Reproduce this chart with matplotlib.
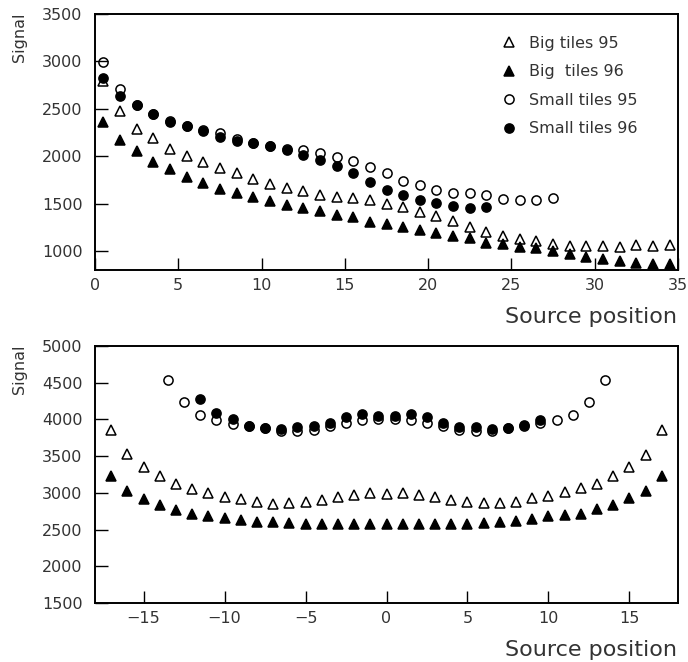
import matplotlib
matplotlib.use('Agg')
import matplotlib.pyplot as plt
import numpy as np

plt.rcParams['font.family'] = ['DejaVu Sans']

# ---------------- data: top panel ----------------
top_x_big = [0.5 + i for i in range(35)]
big95_top = [2790, 2474, 2292, 2187, 2072, 2006, 1943, 1872, 1827, 1757,
             1710, 1670, 1628, 1592, 1571, 1557, 1543, 1494, 1467, 1414,
             1372, 1316, 1256, 1197, 1155, 1127, 1103, 1075, 1050, 1053,
             1053, 1046, 1067, 1053, 1067]
big96_top = [2359, 2173, 2054, 1939, 1862, 1778, 1722, 1659, 1610, 1571,
             1523, 1484, 1453, 1424, 1382, 1358, 1309, 1281, 1256, 1222,
             1193, 1157, 1134, 1088, 1071, 1040, 1029, 998, 966, 935,
             914, 893, 875, 865, 868]
top_x_s95 = [0.5 + i for i in range(28)]
small95_top = [2993, 2712, 2540, 2450, 2375, 2317, 2279, 2240, 2184, 2135,
               2105, 2072, 2065, 2030, 1995, 1953, 1890, 1823, 1743, 1697,
               1645, 1615, 1607, 1592, 1547, 1536, 1536, 1557]
top_x_s96 = [0.5 + i for i in range(24)]
small96_top = [2825, 2639, 2537, 2450, 2366, 2314, 2268, 2198, 2159, 2135,
               2110, 2070, 2009, 1957, 1893, 1820, 1729, 1645, 1586, 1543,
               1502, 1475, 1453, 1467]

# ---------------- data: bottom panel ----------------
bot_x_tri = list(range(-17, 18))
big95_bot = [3857, 3527, 3358, 3232, 3127, 3059, 2997, 2950, 2919, 2874,
             2855, 2861, 2874, 2906, 2950, 2969, 2997, 2983, 2997, 2969,
             2950, 2906, 2874, 2861, 2861, 2874, 2929, 2960, 3005, 3065,
             3127, 3228, 3358, 3522, 3858]
big96_bot = [3232, 3030, 2920, 2828, 2770, 2715, 2688, 2651, 2624, 2606,
             2597, 2585, 2580, 2578, 2578, 2575, 2570, 2570, 2570, 2575,
             2578, 2578, 2580, 2585, 2597, 2615, 2640, 2679, 2702, 2715,
             2774, 2833, 2924, 3032, 3228]
bot_x_s95 = [-13.5 + i for i in range(28)]
small95_bot = [4538, 4238, 4062, 3994, 3944, 3908, 3880, 3848, 3848, 3858,
               3912, 3953, 3994, 4007, 4003, 3994, 3953, 3912, 3858, 3848,
               3848, 3880, 3912, 3948, 3994, 4066, 4238, 4538]
bot_x_s96 = [-11.5 + i for i in range(22)]
small96_bot = [4279, 4084, 4003, 3916, 3880, 3866, 3902, 3916, 3957, 4030,
               4071, 4052, 4052, 4071, 4030, 3957, 3902, 3894, 3871, 3880,
               3921, 3994]

labels = ['Big tiles 95', 'Big  tiles 96', 'Small tiles 95', 'Small tiles 96']

# ---------------- figure ----------------
W, H = 688, 662
fig = plt.figure(figsize=(W / 100, H / 100), dpi=100)

def px_axes(l, t, r, b):
    return fig.add_axes([l / W, 1 - b / H, (r - l) / W, (b - t) / H])

ax1 = px_axes(95, 14, 678, 270)
ax2 = px_axes(95, 346, 678, 603)

ms_c = 6.6
ms_t = 7.6
mew = 1.1
txtc = '#333333'

def draw(ax, xb, b95, b96, xs5, s95, xs6, s96):
    h1, = ax.plot(xb, b95, ls='none', marker='^', ms=ms_t, mfc='none', mec='black', mew=mew)
    h2, = ax.plot(xb, b96, ls='none', marker='^', ms=ms_t, mfc='black', mec='black', mew=mew)
    h3, = ax.plot(xs5, s95, ls='none', marker='o', ms=ms_c, mfc='none', mec='black', mew=mew)
    h4, = ax.plot(xs6, s96, ls='none', marker='o', ms=ms_c, mfc='black', mec='black', mew=mew)
    return [h1, h2, h3, h4]

hs = draw(ax1, top_x_big, big95_top, big96_top, top_x_s95, small95_top, top_x_s96, small96_top)
draw(ax2, bot_x_tri, big95_bot, big96_bot, bot_x_s95, small95_bot, bot_x_s96, small96_bot)

ax1.set_xlim(0, 35)
ax1.set_ylim(800, 3500)
ax1.set_xticks(np.arange(0, 36, 5))
ax1.set_yticks(np.arange(1000, 3501, 500))

ax2.set_xlim(-18, 18)
ax2.set_ylim(1500, 5000)
ax2.set_xticks(np.arange(-15, 16, 5))
ax2.set_yticks(np.arange(1500, 5001, 500))

for ax in (ax1, ax2):
    for s in ax.spines.values():
        s.set_linewidth(1.4)
    ax.tick_params(axis='both', direction='in', length=9, width=1.0,
                   labelsize=11.5, labelcolor=txtc, top=False, right=False)
    ax.tick_params(axis='y', pad=9)
    ax.tick_params(axis='x', pad=6)

# axis titles
fig.text(677 / W, 1 - 317 / H, 'Source position', ha='right', va='center',
         fontsize=16, color=txtc)
fig.text(677 / W, 1 - 650 / H, 'Source position', ha='right', va='center',
         fontsize=16, color=txtc)
fig.text(20 / W, 1 - 12 / H, 'Signal', rotation=90, ha='center', va='top',
         fontsize=11.5, color=txtc)
fig.text(20 / W, 1 - 344 / H, 'Signal', rotation=90, ha='center', va='top',
         fontsize=11.5, color=txtc)

leg = ax1.legend(hs, labels, loc='upper left', bbox_to_anchor=(0.685, 0.94),
                 frameon=False, fontsize=11.5, handlelength=1.0,
                 handletextpad=0.8, labelspacing=0.85, borderaxespad=0.0)
for t in leg.get_texts():
    t.set_color(txtc)

fig.savefig('out.png', dpi=100)
